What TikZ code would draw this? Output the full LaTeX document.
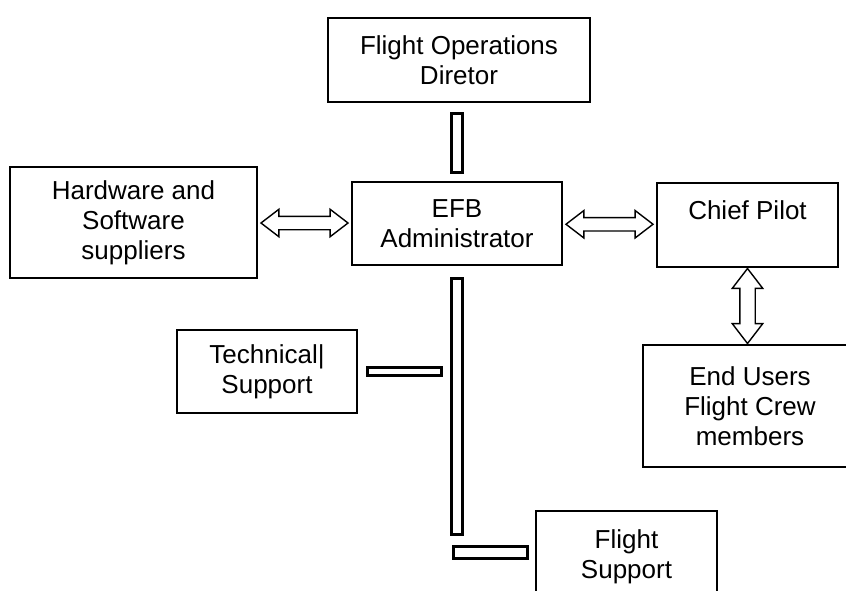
\documentclass[tikz,border=0pt]{standalone}
\usepackage{fontspec}
\setmainfont{Liberation Sans}
\usetikzlibrary{shapes.arrows}

\begin{document}
\begin{tikzpicture}[x=1pt,y=-1pt,
  box/.style={draw=black, line width=2.8pt, align=center, inner sep=0pt,
    font=\fontsize{26}{30}\selectfont},
  dblarrow/.style={draw=black, line width=1.4pt, double arrow, inner xsep=0pt,
    inner ysep=6pt, double arrow head extend=7pt, double arrow tip angle=75,
    minimum height=87pt},
  bar/.style={draw=black, double=white, line width=3pt, double distance=#1,
    line cap=rect},
  bar/.default=8pt]
  \clip (0,0) rectangle (846,590);
  \fill [white] (0,0) rectangle (846,590);
  % boxes
  \node [box, minimum width=262pt, minimum height=84pt] (fod) at (459,60) {Flight Operations\\Diretor};
  \node [box, minimum width=210pt, minimum height=83pt] (efb) at (457,223.5) {EFB\\Administrator};
  \node [box, minimum width=247pt, minimum height=111pt] (hw) at (133.5,222.5) {Hardware and\\Software\\suppliers};
  \node [box, minimum width=181pt, minimum height=84pt] (chief) at (747.5,225) {Chief Pilot\\\mbox{}};
  \node [box, minimum width=214pt, minimum height=122pt] (end) at (750,406) {End Users\\Flight Crew\\members};
  \node [box, minimum width=180pt, minimum height=83pt] (tech) at (267,371.5) {Technical|\\Support};
  \node [box, minimum width=181pt, minimum height=92pt] (fs) at (626.5,557) {Flight\\Support};
  % double arrows
  \path (hw.east) -- node [dblarrow] {} (efb.west);
  \path (efb.east) -- node [dblarrow] {} (chief.west);
  \path (chief.south) -- node [dblarrow, rotate=90, minimum height=75pt, inner ysep=7pt, double arrow head extend=7.5pt] {} (chief.south |- end.north);
  % bars
  \coordinate (spine) at (efb.south |- 0,528.75);
  \coordinate (fsjoin) at (efb.south |- 0,552.5);
  \draw [bar, shorten <=16pt, shorten >=14pt] (efb.north |- fod.south) -- (efb.north);
  \draw [bar=8.5pt, shorten <=18.25pt] (efb.south) -- (spine);
  \draw [bar=5.5pt, shorten <=13.75pt, shorten >=20.25pt] (tech.east) -- (tech.east -| spine);
  \draw [bar=9pt, shorten >=13.5pt] ([xshift=2pt]fsjoin) -- (fsjoin -| fs.west);
\end{tikzpicture}
\end{document}
